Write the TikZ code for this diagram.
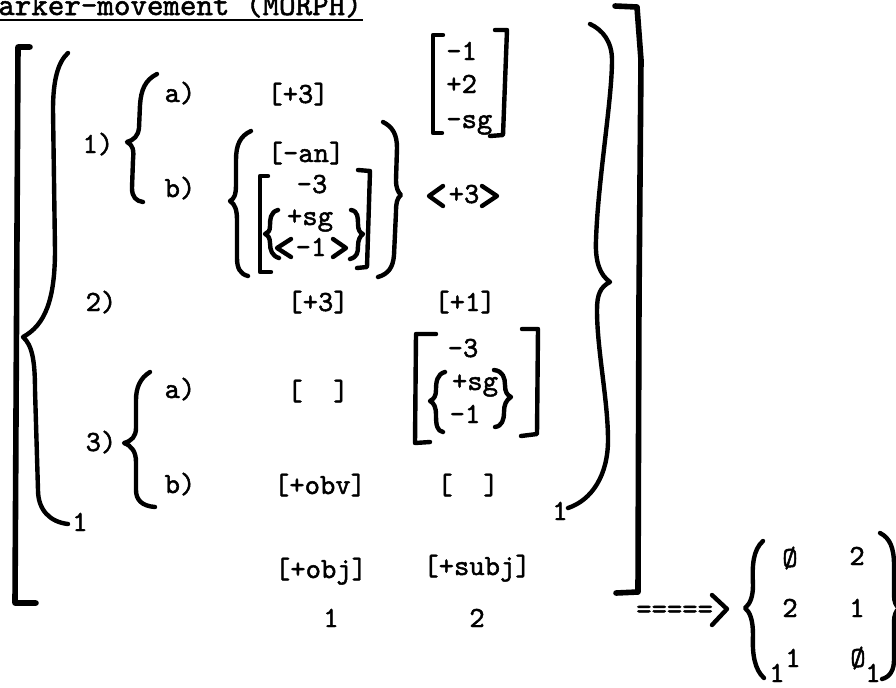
\documentclass[tikz,border=0pt]{standalone}
\usepackage{fontspec}
\newfontfamily\typew{lmmono10-regular.otf}[FakeBold=1.6]
\usepackage{tikz}
\usetikzlibrary{positioning}

\begin{document}
\begin{tikzpicture}[x=0.75pt, y=-0.75pt,
    txt/.style={font=\typew\fontsize{21.9}{25}\selectfont, inner sep=0pt, anchor=base},
    headtxt/.style={txt, font=\typew\fontsize{23.6}{27}\selectfont, anchor=base west},
    brk/.style={line width=3.3pt, line cap=round, line join=round},
    bigbrk/.style={line width=4.2pt, line cap=round, line join=round}]
  \useasboundingbox (0,0) rectangle (896,687);

  % heading, cut at the top of the page
  \node[headtxt] (head) at (-2,15) {arker-movement (MORPH)};
  \draw[line width=2pt] (0,20) -- (363,20);

  % outer square brackets
  \draw[bigbrk] (30,47) -- (18,47) -- (15,603) -- (36,603);
  \draw[bigbrk] (615,6) -- (637,7) -- (641,60) -- (639,300) -- (638,592) -- (616,593);

  % big braces round the three cases
  \draw[brk] (68,53) .. controls (58,62) and (53,80) .. (53,110) -- (55,250)
    .. controls (55,300) and (45,325) .. (23,337)
    .. controls (32,345) and (35,360) .. (35,390) -- (38,490)
    .. controls (38,510) and (50,522) .. (68,524);
  \draw[brk] (590,24) .. controls (603,30) and (612,42) .. (612,60)
    .. controls (612,100) and (598,180) .. (596,240)
    .. controls (595,262) and (600,275) .. (610,282)
    .. controls (600,287) and (597,295) .. (597,310)
    .. controls (597,350) and (608,400) .. (608,440)
    .. controls (608,475) and (592,500) .. (568,508);
  \node[txt] (subL) at (80,531) {1};
  \node[txt] (subR) at (560,520) {1};

  % case 1
  \node[txt] (one) at (98,153) {1)};
  \draw[brk] (157,74) .. controls (145,80) and (141,90) .. (140,105) -- (139,128)
    .. controls (138,136) and (134,140) .. (127,142)
    .. controls (133,145) and (134,150) .. (133,160) -- (132,188)
    .. controls (132,197) and (136,201) .. (143,202);
  \node[txt] (oneA) at (180,102) {a)};
  \node[txt] (oneB) at (180,197) {b)};
  \node[txt] (plA) at (298,103) {[+3]};
  \node[txt, anchor=base west] (prA) at (446,60) {-1};
  \node[txt, anchor=base west] (prB) at (446,93) {+2};
  \node[txt, anchor=base west] (prC) at (446,128) {-sg};
  \draw[brk] (443,35) -- (433,35) -- (433,133) -- (442,133);
  \draw[brk] (495,30) -- (507,30) -- (503,135) -- (490,136);

  \draw[brk] (251,131) .. controls (240,136) and (236,145) .. (236,160) -- (236,185)
    .. controls (236,195) and (234,199) .. (230,201)
    .. controls (235,204) and (237,210) .. (237,220) -- (237,258)
    .. controls (237,268) and (240,274) .. (248,276);
  \draw[brk] (383,122) .. controls (393,127) and (397,135) .. (397,148) -- (396,180)
    .. controls (396,188) and (398,192) .. (401,195)
    .. controls (397,198) and (396,203) .. (396,212) -- (394,255)
    .. controls (393,268) and (388,274) .. (378,277);
  \node[txt] (an) at (306,162) {[-an]};
  \node[txt] (bm3) at (312,193) {-3};
  \node[txt] (bsg) at (310,225) {+sg};
  \node[txt] (bm1) at (311,256) {-1};
  \draw[brk] (268,176) -- (260,176) -- (260,272) -- (271,272);
  \draw[brk] (358,170) -- (370,171) -- (367,267) -- (357,268);
  \draw[brk] (278,210) .. controls (270,212) and (270,220) .. (270,226)
    .. controls (270,231) and (268,233) .. (265,234)
    .. controls (268,235) and (270,238) .. (270,243)
    .. controls (270,250) and (272,256) .. (279,258);
  \draw[brk] (351,210) .. controls (358,211) and (358,218) .. (358,224)
    .. controls (358,230) and (360,233) .. (363,234)
    .. controls (360,236) and (358,240) .. (358,246)
    .. controls (358,253) and (357,257) .. (350,259);
  \draw[brk] (291,239) -- (277,248) -- (291,257);
  \draw[brk] (333,239) -- (346,248) -- (333,257);

  \node[txt] (bp3) at (464,203) {+3};
  \draw[brk] (443,186) -- (429,196) -- (443,206);
  \draw[brk] (482,186) -- (497,196) -- (482,206);

  % case 2
  \node[txt] (two) at (101,311) {2)};
  \node[txt] (twoL) at (318,311) {[+3]};
  \node[txt] (twoR) at (465,311) {[+1]};

  % case 3
  \node[txt] (three) at (101,451) {3)};
  \draw[brk] (150,372) .. controls (140,378) and (136,388) .. (136,400) -- (136,428)
    .. controls (136,436) and (132,441) .. (124,443)
    .. controls (132,446) and (136,452) .. (136,462) -- (136,490)
    .. controls (136,500) and (142,506) .. (155,507);
  \node[txt] (threeA) at (180,398) {a)};
  \node[txt] (threeB) at (180,493) {b)};
  \node[txt] (thAL) at (318,400) {[\ \ ]};
  \node[txt] (qm3) at (463,357) {-3};
  \node[txt] (qsg) at (475,390) {+sg};
  \node[txt] (qm1) at (465,423) {-1};
  \draw[brk] (436,334) -- (416,334) -- (415,443) -- (430,442);
  \draw[brk] (522,329) -- (538,329) -- (537,434) -- (521,436);
  \draw[brk] (445,372) .. controls (437,374) and (436,382) .. (436,390)
    .. controls (436,396) and (434,399) .. (430,401)
    .. controls (434,403) and (436,407) .. (436,415)
    .. controls (436,425) and (437,431) .. (443,432);
  \draw[brk] (494,370) .. controls (503,371) and (505,378) .. (505,385)
    .. controls (505,392) and (507,395) .. (511,397)
    .. controls (506,400) and (504,405) .. (504,412)
    .. controls (504,420) and (502,426) .. (495,427);
  \node[txt] (obv) at (320,494) {[+obv]};
  \node[txt] (thBR) at (468,494) {[\ \ ]};

  % bottom row and indices
  \node[txt] (obj) at (321,578) {[+obj]};
  \node[txt] (subj) at (477,575) {[+subj]};
  \node[txt] (idxA) at (331,627) {1};
  \node[txt] (idxB) at (477,627) {2};

  % arrow and result
  \node[txt, anchor=base west] (eqs) at (636,618) {=====};
  \draw[brk] (712,595) -- (727,609) -- (712,625);
  \draw[brk] (763,541) .. controls (753,550) and (752,565) .. (753,585)
    .. controls (753,597) and (750,604) .. (745,608)
    .. controls (750,612) and (753,620) .. (753,635)
    .. controls (752,655) and (755,670) .. (764,678);
  \draw[brk] (880,533) .. controls (890,538) and (894,548) .. (894,565) -- (894,595)
    .. controls (894,602) and (896,606) .. (899,608)
    .. controls (896,611) and (894,615) .. (894,622) -- (894,660)
    .. controls (894,670) and (890,677) .. (882,679);
  \node[txt] (zAA) at (790,567) {Ø};
  \node[txt] (zAB) at (857,565) {2};
  \node[txt] (zBA) at (790,617) {2};
  \node[txt] (zBB) at (857,617) {1};
  \node[txt] (zCA) at (793,667) {1};
  \node[txt] (zCB) at (858,667) {Ø};
  \node[txt] (subC) at (777,682) {1};
  \node[txt] (subD) at (873,682) {1};
\end{tikzpicture}
\end{document}
